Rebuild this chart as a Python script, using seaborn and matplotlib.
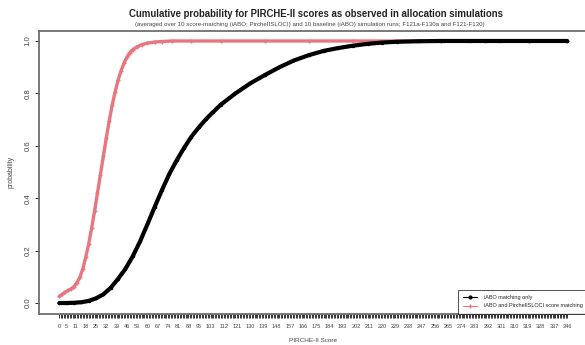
import numpy as np
import pandas as pd
import seaborn as sns
import matplotlib
matplotlib.use("Agg")
import matplotlib.pyplot as plt
from matplotlib.ticker import FixedLocator, FuncFormatter
from matplotlib.lines import Line2D

# ---- data ----
score_base = [0, 5, 10, 15, 20, 25, 30, 35, 40, 45, 50, 55, 60, 65, 70, 75, 80, 85, 90,
              95, 100, 105, 110, 120, 130, 140, 150, 160, 170, 180, 190, 200, 210, 220,
              230, 245, 260, 280, 300, 320, 346]
prob_base = [0.000, 0.000, 0.001, 0.003, 0.008, 0.018, 0.033, 0.058, 0.092, 0.130, 0.178,
             0.235, 0.300, 0.367, 0.432, 0.493, 0.545, 0.592, 0.635, 0.670, 0.702, 0.730,
             0.757, 0.800, 0.838, 0.870, 0.900, 0.926, 0.946, 0.962, 0.973, 0.982, 0.989,
             0.994, 0.997, 0.999, 1.000, 1.000, 1.000, 1.000, 1.000]

score_pirche = [0, 2, 4, 6, 8, 10, 12, 14, 16, 18, 20, 22, 24, 26, 28, 30, 32, 34, 36, 38,
                40, 42, 44, 46, 48, 50, 53, 56, 60, 65, 70, 77, 90, 110, 140, 170, 200,
                230, 260, 290, 320, 346]
prob_pirche = [0.025, 0.033, 0.042, 0.048, 0.054, 0.063, 0.078, 0.098, 0.130, 0.175, 0.225,
               0.285, 0.350, 0.420, 0.490, 0.560, 0.630, 0.695, 0.755, 0.805, 0.850, 0.885,
               0.915, 0.938, 0.955, 0.967, 0.978, 0.986, 0.992, 0.996, 0.998, 1.000, 1.000,
               1.000, 1.000, 1.000, 1.000, 1.000, 1.000, 1.000, 1.000, 1.000]

x_tick_labels = [0, 5, 11, 18, 25, 32, 39, 46, 53, 60, 67, 74, 81, 88, 95, 103, 112, 121,
                 130, 139, 148, 157, 166, 175, 184, 193, 202, 211, 220, 229, 238, 247, 256,
                 265, 274, 283, 292, 301, 310, 319, 328, 337, 346]
y_ticks = [0.0, 0.2, 0.4, 0.6, 0.8, 1.0]

series_names = ["iABO matching only", "iABO and PircheIISLOCI score matching"]

df_base = pd.DataFrame({"score": score_base, "prob": prob_base})
df_pirche = pd.DataFrame({"score": score_pirche, "prob": prob_pirche})

sns.set_theme(style="white")
plt.rcParams["font.family"] = ["Liberation Sans", "DejaVu Sans"]

W, H = 585, 345
fig = plt.figure(figsize=(W / 100, H / 100), dpi=100)
ax = fig.add_axes([39 / W, (H - 313.5) / H, (587.5 - 39) / W, (313.5 - 30.5) / H])

red = "#E8767F"
sns.lineplot(data=df_pirche, x="score", y="prob", ax=ax, color=red, lw=2.4,
             marker="+", markersize=3, markeredgewidth=1.0, markeredgecolor=red, zorder=3)
sns.lineplot(data=df_base, x="score", y="prob", ax=ax, color="black", lw=3.0,
             marker="o", markersize=2.5, markeredgewidth=0, zorder=4)

ax.set_xlim(-13.84, 359.84)
ax.set_ylim(-0.04, 1.04)

# all integer ticks, labels only on selected
all_ticks = list(range(0, 347))
ax.xaxis.set_major_locator(FixedLocator(all_ticks))
lab_set = set(x_tick_labels)
ax.xaxis.set_major_formatter(FuncFormatter(lambda v, p: str(int(round(v))) if int(round(v)) in lab_set else ""))
ax.tick_params(axis="x", direction="out", length=3.2, width=0.55, pad=4,
               labelsize=4.0, colors="black", labelcolor="#444444", bottom=True)
ax.set_yticks(y_ticks)
ax.set_yticklabels([f"{v:.1f}" for v in y_ticks], rotation=90, va="center")
ax.tick_params(axis="y", direction="out", length=3.0, width=0.7, pad=2.5,
               labelsize=5.6, labelcolor="#444444", left=True)

for s in ax.spines.values():
    s.set_color("#6e6e6e")
    s.set_linewidth(1.3)

ax.set_xlabel("PIRCHE-II Score", fontsize=4.6, color="#444444", labelpad=7)
ax.set_ylabel("probability", fontsize=5.0, color="#444444", labelpad=7)

fig.text(316 / W, 1 - 14 / H,
         "Cumulative probability for PIRCHE-II scores as observed in allocation simulations",
         ha="center", va="center", fontsize=6.9, fontweight="bold", color="#222222")
fig.text(310 / W, 1 - 24.5 / H,
         "(averaged over 10 score-matching (iABO; PircheIISLOCI) and 10 baseline (iABO) simulation runs; F121a-F130a and F121-F130)",
         ha="center", va="center", fontsize=4.4, color="#444444")

handles = [Line2D([0], [0], color="black", lw=0.8, marker="o", markersize=2),
           Line2D([0], [0], color=red, lw=0.8, marker="+", markersize=3)]
leg = ax.legend(handles, series_names, loc="lower right", borderaxespad=0,
                fontsize=4.0, frameon=True, fancybox=False, handlelength=2.5,
                handletextpad=1.2, borderpad=0.9, labelspacing=0.7)
leg.get_frame().set_edgecolor("black")
leg.get_frame().set_linewidth(0.6)

fig.savefig("out.png", dpi=100)
